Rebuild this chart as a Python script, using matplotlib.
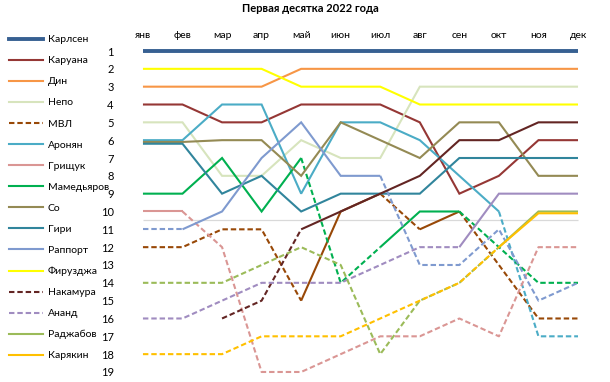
import matplotlib
matplotlib.use("Agg")
import matplotlib.pyplot as plt
from matplotlib.lines import Line2D

plt.rcParams["font.family"] = ["Lato", "DejaVu Sans"]

months = ["янв", "фев", "мар", "апр", "май", "июн", "июл", "авг", "сен", "окт", "ноя", "дек"]
rank_ticks = list(range(1, 20))

players = ["Карлсен", "Каруана", "Дин", "Непо", "МВЛ", "Аронян", "Грищук", "Мамедьяров",
           "Со", "Гири", "Раппорт", "Фирузджа", "Накамура", "Ананд", "Раджабов", "Карякин"]

carlsen = [1, 1, 1, 1, 1, 1, 1, 1, 1, 1, 1, 1]
caruana = [4, 4, 5, 5, 4, 4, 4, 5, 9, 8, 6, 6]
ding = [3, 3, 3, 3, 2, 2, 2, 2, 2, 2, 2, 2]
nepo = [5, 5, 8, 8, 6, 7, 7, 3, 3, 3, 3, 3]
mvl = [12, 12, 11, 11, 15, 10, 9, 11, 10, 13, 16, 16]
aronian = [6, 6, 4, 4, 9, 5, 5, 6, 8, 10, 17, 17]
grischuk = [10, 10, 12, 19, 19, 18, 17, 17, 16, 17, 12, 12]
mamedyarov = [9, 9, 7, 10, 7, 14, 12, 10, 10, 12, 14, 14]
so = [6.1, 6.1, 6, 6, 8, 5, 6, 7, 5, 5, 8, 8]
giri = [6.2, 6.2, 9, 8, 10, 9, 9, 9, 7, 7, 7, 7]
rapport = [11, 11, 10, 7, 5, 8, 8, 13, 13, 11, 15, 14]
firouzja = [2, 2, 2, 2, 3, 3, 3, 4, 4, 4, 4, 4]
nakamura = [None, None, 16, 15, 11, 10, 9, 8, 6, 6, 5, 5]
anand = [16, 16, 15, 14, 14, 14, 13, 12, 12, 9, 9, 9]
radjabov = [14, 14, 14, 13, 12, 13, 18, 15, 14, 12, 10, 10]
karjakin = [18, 18, 18, 17, 17, 17, 16, 15, 14, 12, 10.1, 10.1]

series = [carlsen, caruana, ding, nepo, mvl, aronian, grischuk, mamedyarov,
          so, giri, rapport, firouzja, nakamura, anand, radjabov, karjakin]

colors = ["#376092", "#953735", "#F79646", "#D7E4BD", "#984807", "#4BACC6", "#DA9694",
          "#00B050", "#948A54", "#31859C", "#7F9ACF", "#FFFF00", "#632523", "#A08CC0",
          "#9BBB59", "#FFC000"]
legend_dashed = {"МВЛ", "Накамура", "Ананд"}

fig = plt.figure(figsize=(6.1, 3.82), dpi=100)
ax = fig.add_axes([0.2149, 0.0029, 0.7521, 0.8869])

DASH = (2.6, 1.4)

for name, vals, col in zip(players, series, colors):
    lw = 2.8 if name == "Карлсен" else 1.5
    # сегмент сплошной, если точка, в которую он входит, в десятке
    runs = []
    for i in range(len(vals) - 1):
        a, b = vals[i], vals[i + 1]
        if a is None or b is None:
            continue
        solid = b <= 10.2
        if runs and runs[-1][0] == solid and runs[-1][1][-1] == i:
            runs[-1][1].append(i + 1)
        else:
            runs.append([solid, [i, i + 1]])
    for solid, idx in runs:
        line, = ax.plot(idx, [vals[k] for k in idx], color=col, lw=lw,
                        solid_capstyle="butt", solid_joinstyle="miter",
                        dash_capstyle="butt")
        if not solid:
            line.set_dashes(DASH)

ax.hlines(10.45, 0, 11, color="#D9D9D9", lw=0.9, zorder=0)

ax.set_xlim(-0.3, 11.3)
ax.set_ylim(19.5, 0.5)
ax.set_xticks(range(len(months)))
ax.set_xticklabels(months)
ax.set_yticks(rank_ticks)
ax.set_yticklabels([str(r) for r in rank_ticks])
ax.xaxis.tick_top()
ax.tick_params(axis="x", length=0, pad=1.5, labelsize=7.5)
ax.tick_params(axis="y", length=0, pad=12.5, labelsize=8)
for lab in ax.get_yticklabels():
    lab.set_horizontalalignment("right")
for s in ax.spines.values():
    s.set_visible(False)

fig.text(310 / 610, 1 - 8 / 382, "Первая десятка 2022 года", ha="center", va="center",
         fontsize=8, fontweight="bold")

handles = []
for name, col in zip(players, colors):
    lw = 2.8 if name == "Карлсен" else 1.5
    h = Line2D([0], [1], color=col, lw=lw)
    if name in legend_dashed:
        h.set_dashes(DASH)
    handles.append(h)
fig.legend(handles, players, loc="upper left", bbox_to_anchor=(9 / 610, 1 - 35 / 382),
           frameon=False, fontsize=7.5, handlelength=3.3, handletextpad=0.4,
           labelspacing=1.13, borderpad=0, borderaxespad=0)

fig.savefig("out.png", dpi=100)
